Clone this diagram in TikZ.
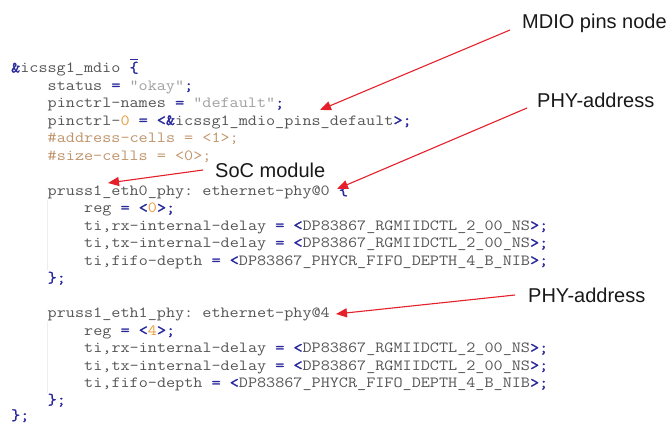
\documentclass[tikz,border=0pt]{standalone}
\usepackage{fontspec}
\setmonofont[FakeStretch=1.14,BoldFont={Latin Modern Mono},BoldFeatures={FakeBold=1.6}]{Latin Modern Mono}
\newfontfamily\notefont{Liberation Sans}
\usetikzlibrary{arrows.meta}
\definecolor{idgray}{HTML}{555555}
\definecolor{strgray}{HTML}{A0A0A0}
\definecolor{numorange}{HTML}{EE9A3A}
\definecolor{puncblue}{HTML}{28289C}
\definecolor{celltan}{HTML}{C0946A}
\definecolor{arrowred}{HTML}{E5202A}
\newcommand{\pnc}[1]{\textcolor{puncblue}{\bfseries #1}}
\newcommand{\numc}[1]{\textcolor{numorange}{#1}}
\newcommand{\strc}[1]{\textcolor{strgray}{#1}}
\begin{document}
\begin{tikzpicture}[x=1pt,y=-1pt,
    code/.style={anchor=base west,inner sep=0pt,text=idgray,font=\ttfamily\fontsize{15.5}{17.5}\selectfont},
    note/.style={anchor=base west,inner sep=0pt,text=black!90,font=\notefont\fontsize{20}{24}\selectfont},
    ptr/.style={arrowred,line width=1.1pt,-{Triangle[length=11pt,width=9pt]}},
    guide/.style={draw=black!7,line width=0.8pt}]
    \fill[white] (0,0) rectangle (670,424);
    \useasboundingbox (0,0) rectangle (670,424);
    % indent guides
    \draw[guide] (47.5,200) -- (47.5,270);
    \draw[guide] (47.5,322) -- (47.5,393);
    \draw[puncblue,line width=0.8pt] (130,59.5) -- (138,59.5);
    % mdio node
    \node[code] (mdio) at (11,72.5) {\pnc{\&}icssg1\_mdio \pnc{\{}};
    \node[code] (stat) at (47.5,90) {status \pnc{=} \strc{"okay"}\pnc{;}};
    \node[code] (pnames) at (47.5,107.5) {pinctrl-names \pnc{=} \strc{"default"}\pnc{;}};
    \node[code] (pctrl) at (47.5,125) {pinctrl-\numc{0} \pnc{= <\&}icssg1\_mdio\_pins\_default\pnc{>;}};
    \node[code,text=celltan] (addr) at (47.5,142.5) {\#address-cells = <1>;};
    \node[code,text=celltan] (size) at (47.5,160) {\#size-cells = <0>;};
    % first phy
    \node[code] (phya) at (47.5,195) {pruss1\_eth0\_phy: ethernet-phy@0 \pnc{\{}};
    \node[code] (rega) at (84,212.5) {reg \pnc{= <}\numc{0}\pnc{>;}};
    \node[code] (rxa) at (84,230) {ti,rx-internal-delay \pnc{= <}DP83867\_RGMIIDCTL\_2\_00\_NS\pnc{>;}};
    \node[code] (txa) at (84,247.5) {ti,tx-internal-delay \pnc{= <}DP83867\_RGMIIDCTL\_2\_00\_NS\pnc{>;}};
    \node[code] (fifoa) at (84,265) {ti,fifo-depth \pnc{= <}DP83867\_PHYCR\_FIFO\_DEPTH\_4\_B\_NIB\pnc{>;}};
    \node[code] (enda) at (47.5,282.5) {\pnc{\};}};
    % second phy
    \node[code] (phyb) at (47.5,317.5) {pruss1\_eth1\_phy: ethernet-phy@4};
    \node[code] (regb) at (84,335) {reg \pnc{= <}\numc{4}\pnc{>;}};
    \node[code] (rxb) at (84,352.5) {ti,rx-internal-delay \pnc{= <}DP83867\_RGMIIDCTL\_2\_00\_NS\pnc{>;}};
    \node[code] (txb) at (84,370) {ti,tx-internal-delay \pnc{= <}DP83867\_RGMIIDCTL\_2\_00\_NS\pnc{>;}};
    \node[code] (fifob) at (84,387.5) {ti,fifo-depth \pnc{= <}DP83867\_PHYCR\_FIFO\_DEPTH\_4\_B\_NIB\pnc{>;}};
    \node[code] (endb) at (47.5,404.5) {\pnc{\};}};
    \node[code] (endmdio) at (11,420) {\pnc{\};}};
    % labels
    \node[note] (mdiolbl) at (522,28) {MDIO pins node};
    \node[note] (addralbl) at (537,107) {PHY-address};
    \node[note] (soclbl) at (215,177) {SoC module};
    \node[note] (addrblbl) at (528,302) {PHY-address};
    \coordinate (pinstip) at (320,110);
    \coordinate (phyatip) at (337,189);
    \coordinate (soctip) at (108,183);
    \coordinate (phybtip) at (336,314);
    \draw[ptr] ([shift={(-12,2)}]mdiolbl.base west) -- (pinstip);
    \draw[ptr] ([shift={(-10,1)}]addralbl.base west) -- (phyatip);
    \draw[ptr] ([shift={(-12,-7)}]soclbl.base west) -- (soctip);
    \draw[ptr] ([shift={(-13,-7)}]addrblbl.base west) -- (phybtip);
\end{tikzpicture}
\end{document}
